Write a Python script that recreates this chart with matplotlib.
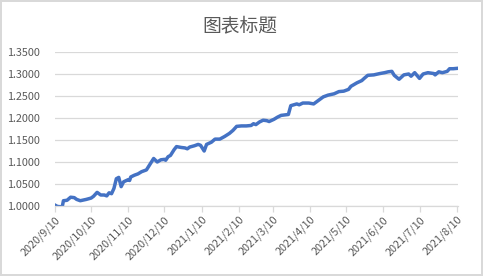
import matplotlib
matplotlib.use("Agg")
import matplotlib.pyplot as plt
import matplotlib.dates as mdates
import pandas as pd
from matplotlib.ticker import FuncFormatter, MultipleLocator

plt.rcParams['font.family'] = ['Noto Sans CJK SC', 'DejaVu Sans']

title = "图表标题"

dates = [
    "2020-09-10", "2020-09-12", "2020-09-16", "2020-09-17", "2020-09-20", "2020-09-23",
    "2020-09-26", "2020-09-28", "2020-10-01", "2020-10-06", "2020-10-10", "2020-10-12",
    "2020-10-15", "2020-10-18", "2020-10-21", "2020-10-23", "2020-10-25", "2020-10-27",
    "2020-10-29", "2020-10-31", "2020-11-02", "2020-11-04", "2020-11-06", "2020-11-10",
    "2020-11-11", "2020-11-12", "2020-11-15", "2020-11-18", "2020-11-21", "2020-11-25",
    "2020-11-28", "2020-12-01", "2020-12-04", "2020-12-07", "2020-12-10", "2020-12-11",
    "2020-12-13", "2020-12-15", "2020-12-18", "2020-12-20", "2020-12-24", "2020-12-27",
    "2020-12-29", "2020-12-31", "2021-01-04", "2021-01-07", "2021-01-09", "2021-01-12",
    "2021-01-14", "2021-01-18", "2021-01-21", "2021-01-25", "2021-01-29", "2021-02-02",
    "2021-02-05", "2021-02-08", "2021-02-12", "2021-02-16", "2021-02-20", "2021-02-22",
    "2021-02-24", "2021-02-27", "2021-03-02", "2021-03-05", "2021-03-07", "2021-03-11",
    "2021-03-14", "2021-03-17", "2021-03-23", "2021-03-25", "2021-03-30", "2021-04-01",
    "2021-04-04", "2021-04-09", "2021-04-13", "2021-04-17", "2021-04-21", "2021-04-25",
    "2021-04-30", "2021-05-04", "2021-05-08", "2021-05-12", "2021-05-14", "2021-05-19",
    "2021-05-23", "2021-05-25", "2021-05-28", "2021-06-02", "2021-06-07", "2021-06-11",
    "2021-06-14", "2021-06-17", "2021-06-19", "2021-06-23", "2021-06-27", "2021-07-01",
    "2021-07-03", "2021-07-06", "2021-07-10", "2021-07-13", "2021-07-17", "2021-07-22",
    "2021-07-23", "2021-07-26", "2021-07-29", "2021-08-02", "2021-08-04", "2021-08-07",
    "2021-08-11",
]
values = [
    1.002, 0.999, 0.998, 1.012, 1.013, 1.020,
    1.019, 1.015, 1.012, 1.015, 1.018, 1.022,
    1.031, 1.025, 1.025, 1.023, 1.030, 1.028,
    1.040, 1.062, 1.065, 1.044, 1.055, 1.060,
    1.058, 1.066, 1.070, 1.073, 1.078, 1.082,
    1.095, 1.108, 1.100, 1.105, 1.106, 1.104,
    1.112, 1.115, 1.128, 1.135, 1.133, 1.132,
    1.130, 1.134, 1.137, 1.140, 1.138, 1.125,
    1.140, 1.145, 1.152, 1.152, 1.158, 1.165,
    1.172, 1.181, 1.182, 1.182, 1.183, 1.187,
    1.185, 1.191, 1.195, 1.194, 1.192, 1.197,
    1.202, 1.206, 1.208, 1.228, 1.232, 1.230,
    1.234, 1.234, 1.232, 1.240, 1.248, 1.252,
    1.255, 1.260, 1.261, 1.265, 1.272, 1.280,
    1.285, 1.290, 1.297, 1.298, 1.301, 1.303,
    1.305, 1.306, 1.297, 1.288, 1.298, 1.300,
    1.295, 1.303, 1.290, 1.300, 1.303, 1.301,
    1.298, 1.305, 1.303, 1.306, 1.312, 1.312,
    1.313,
]
tick_dates = ["2020-09-10", "2020-10-10", "2020-11-10", "2020-12-10", "2021-01-10",
              "2021-02-10", "2021-03-10", "2021-04-10", "2021-05-10", "2021-06-10",
              "2021-07-10", "2021-08-10"]
tick_labels = ["2020/9/10", "2020/10/10", "2020/11/10", "2020/12/10", "2021/1/10",
               "2021/2/10", "2021/3/10", "2021/4/10", "2021/5/10", "2021/6/10",
               "2021/7/10", "2021/8/10"]

x = pd.to_datetime(dates)
xt = pd.to_datetime(tick_dates)

fig = plt.figure(figsize=(4.83, 2.76), dpi=100)
fig.patch.set_facecolor("white")
fig.patch.set_edgecolor("#D9D9D9")
fig.patch.set_linewidth(1.5)

ax = fig.add_axes([55/483, 1-206/276, (458-55)/483, (206-52)/276])
ax.plot(x, values, color="#4472C4", linewidth=2.5, solid_joinstyle="round")

ax.set_ylim(1.0, 1.35)
ax.yaxis.set_major_locator(MultipleLocator(0.05))
ax.yaxis.set_major_formatter(FuncFormatter(lambda v, p: f"{v:.4f}"))
ax.set_xlim(xt[0], pd.Timestamp("2021-08-11"))
ax.set_xticks(xt)
ax.set_xticklabels(tick_labels, rotation=45, ha="right", va="top", rotation_mode="anchor")

ax.grid(axis="y", color="#D9D9D9", linewidth=0.9)
ax.set_axisbelow(True)
for s in ["left", "right", "top"]:
    ax.spines[s].set_visible(False)
ax.spines["bottom"].set_color("#D9D9D9")
ax.spines["bottom"].set_linewidth(0.9)
ax.tick_params(axis="y", length=0, pad=11, labelsize=7.8, labelcolor="#595959")
ax.tick_params(axis="x", length=4, width=0.9, color="#D9D9D9", pad=2,
               labelsize=7.8, labelcolor="#595959")

fig.text(0.497, 1-26/276, title, ha="center", va="center", fontsize=13.5, color="#595959")

fig.savefig("out.png", dpi=100)
